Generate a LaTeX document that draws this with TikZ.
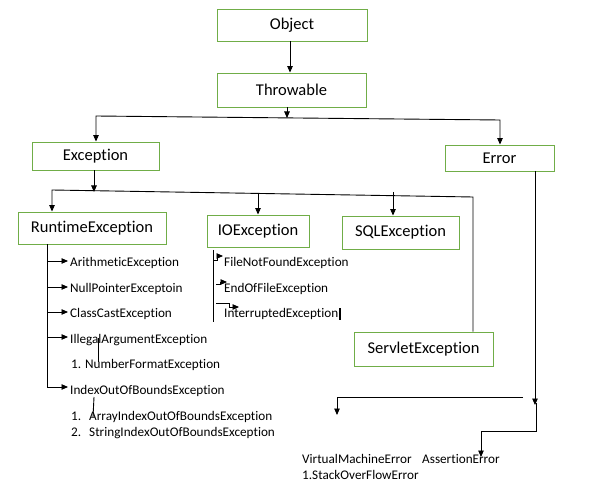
\documentclass[tikz,border=0pt]{standalone}
\usepackage{fontspec}
\setmainfont[Ligatures=NoCommon]{Carlito}
\usetikzlibrary{arrows.meta}
\definecolor{boxgreen}{HTML}{70AD47}
\tikzset{
  box/.style={draw=boxgreen, line width=0.9pt, inner sep=0pt, text=black,
    font=\fontsize{16.5}{18}\selectfont},
  lbl/.style={anchor=west, inner sep=0pt, text=black,
    font=\fontsize{13.2}{15}\selectfont},
  ln/.style={line width=0.9pt, draw=black},
  arr/.style={ln, -{Triangle[length=6.5pt,width=5.5pt]}},
  rarr/.style={ln, {Triangle[length=6.5pt,width=5.5pt]}-},
  barr/.style={ln, {Triangle[length=6.5pt,width=5.5pt]}-{Triangle[length=6.5pt,width=5.5pt]}},
}
\begin{document}
\begin{tikzpicture}[x=1pt,y=-1pt]
\useasboundingbox[fill=white] (0,0) rectangle (589,489);

% boxes
\node[box, minimum width=150pt, minimum height=32pt] (obj) at (292,25) {Object};
\node[box, minimum width=149pt, minimum height=34pt] (thr) at (291.5,90) {Throwable};
\node[box, minimum width=127pt, minimum height=28pt] (exc) at (95.5,156) {Exception};
\node[box, minimum width=109pt, minimum height=26pt] (err) at (499.5,158) {Error};
\node[box, minimum width=148pt, minimum height=32pt] (rte) at (92,228) {RuntimeException};
\node[box, minimum width=102pt, minimum height=32pt] (ioe) at (258,231) {IOException};
\node[box, minimum width=117pt, minimum height=33pt] (sql) at (400.5,232.5) {SQLException};
\node[box, minimum width=139pt, minimum height=34pt] (srv) at (423.5,349) {ServletException};

% Object -> Throwable
\draw[arr] ([xshift=-2pt]obj.south) -- ([xshift=-1.5pt]thr.north);

% Throwable split
\coordinate (tj) at (287,118);
\coordinate (tl) at (96,116);
\coordinate (tr) at (500,120);
\draw[arr] (thr.south -| tj) -- (tj);
\draw[barr] (exc.north -| tl) -- (tl) -- (tr) -- (err.north -| tr);

% Exception split
\coordinate (ej) at (94,192);
\coordinate (el) at (52,190);
\coordinate (er) at (473,197);
\coordinate (ij) at (258,193.4);
\coordinate (sj) at (393,192);
\draw[arr] (exc.south -| ej) -- (ej);
\draw[rarr] (rte.north -| el) -- (el) -- (er) -- (srv.north -| er);
\draw[arr] (ij) -- (ioe.north -| ij);
\draw[arr] (sj) -- (sql.north -| sj);

% RuntimeException children
\node[lbl] (ari) at (70,263) {ArithmeticException};
\node[lbl] (npe) at (70,289) {NullPointerExceptoin};
\node[lbl] (cce) at (70,314) {ClassCastException};
\node[lbl] (iae) at (70,340) {IllegalArgumentException};
\node[lbl] (nfe) at (71,365) {1. NumberFormatException};
\node[lbl] (ioobe) at (70,391) {IndexOutOfBoundsException};
\node[lbl] (aioobe) at (71,417) {1.\hspace{8pt}ArrayIndexOutOfBoundsException};
\node[lbl] (sioobe) at (71,433) {2.\hspace{8pt}StringIndexOutOfBoundsException};

\coordinate (rvb) at (47,387);
\draw[arr] (rte.south -| rvb) -- (rvb) -- ([xshift=-2pt,yshift=4pt]ioobe.west);
\draw[arr] ([xshift=-23pt,yshift=2pt]ari.west) -- ([xshift=-2pt,yshift=2pt]ari.west);
\draw[arr] ([xshift=-23pt,yshift=2pt]npe.west) -- ([xshift=-2pt,yshift=2pt]npe.west);
\draw[arr] ([xshift=-23pt,yshift=2pt]cce.west) -- ([xshift=-2pt,yshift=2pt]cce.west);
\draw[arr] ([xshift=-23pt,yshift=3pt]iae.west) -- ([xshift=-2pt,yshift=3pt]iae.west);

\coordinate (s1a) at (98,338);
\coordinate (s1b) at (98,362);
\draw[ln] (s1a) -- (s1b);
\coordinate (s2a) at (94,397);
\coordinate (s2b) at (93,417);
\draw[ln] (s2a) -- (s2b);

% IOException children
\node[lbl] (fnf) at (224,263) {FileNotFoundException};
\node[lbl] (eof) at (224,289) {EndOfFileException};
\node[lbl] (ie) at (224,314) {InterruptedException};
\coordinate (iv1) at (213,250);
\coordinate (iv2) at (213,322);
\draw[ln] (iv1) -- (iv2);
\coordinate (f1) at (213,260);
\coordinate (f2) at (217,260);
\coordinate (f3) at (217,256);
\coordinate (f4) at (223,256);
\draw[arr] (f1) -- (f2) -- (f3) -- (f4);
\coordinate (e1) at (216,284);
\coordinate (e2) at (220,284);
\coordinate (e3) at (220,282);
\coordinate (e4) at (227,282);
\draw[arr] (e1) -- (e2) -- (e3) -- (e4);
\coordinate (n1) at (216,303);
\coordinate (n2) at (229,303);
\coordinate (n3) at (229,307);
\coordinate (n4) at (239,307);
\draw[arr] (n1) -- (n2) -- (n3) -- (n4);
\coordinate (cur1) at (340,308);
\coordinate (cur2) at (340,320);
\draw[line width=2pt] (cur1) -- (cur2);

% Error children
\node[lbl] (vme) at (302,459) {VirtualMachineError};
\node[lbl] (ae) at (422,459) {AssertionError};
\node[lbl] (soe) at (302,475) {1.StackOverFlowError};
\coordinate (ev) at (535,405);
\draw[arr] (err.south -| ev) -- (ev);
\coordinate (h1) at (523,397);
\coordinate (h2) at (337,397);
\coordinate (h3) at (337,415);
\draw[arr] (h1) -- (h2) -- (h3);
\coordinate (a1) at (536,403);
\coordinate (a2) at (536,431);
\coordinate (a3) at (481,431);
\coordinate (a4) at (481,457);
\draw[arr] (a1) -- (a2) -- (a3) -- (a4);
\end{tikzpicture}
\end{document}
